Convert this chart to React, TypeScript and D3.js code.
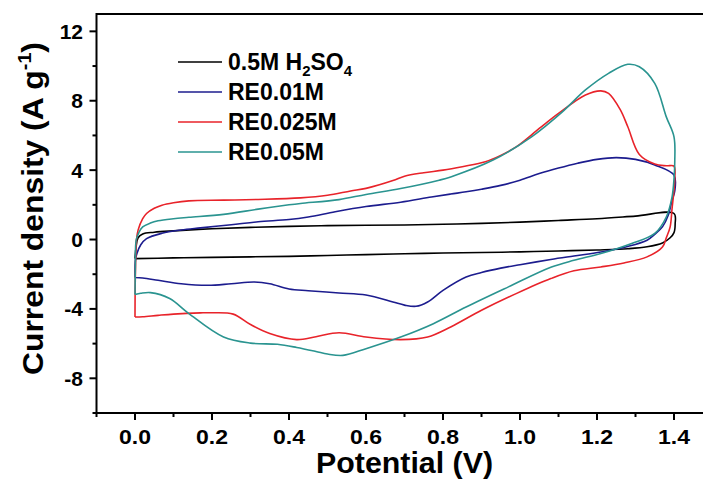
import React from "react";
import * as d3 from "d3";

const seriesNames = ["0.5M H2SO4", "RE0.01M", "RE0.025M", "RE0.05M"];
const seriesColors = ["#000000", "#1c1c8e", "#e8232a", "#2a9490"];

// [potential (V), current density (A/g)] – anodic sweep then cathodic sweep
const blackLoop: [number, number][] = [
  [0, -1.1], [0.003, -0.4], [0.008, 0.1], [0.02, 0.32], [0.05, 0.42], [0.1, 0.5], [0.2, 0.62],
  [0.3, 0.7], [0.4, 0.76], [0.5, 0.8], [0.6, 0.82], [0.7, 0.84], [0.8, 0.88], [0.9, 0.93],
  [1.0, 1.0], [1.1, 1.1], [1.2, 1.2], [1.3, 1.35], [1.4, 1.5],
  [1.403, 0.9], [1.4, 0.4], [1.39, 0.1], [1.37, -0.2], [1.33, -0.42], [1.28, -0.53], [1.2, -0.6],
  [1.1, -0.66], [1.0, -0.71], [0.9, -0.75], [0.8, -0.78], [0.7, -0.82], [0.6, -0.87], [0.5, -0.92],
  [0.4, -0.97], [0.3, -1.0], [0.2, -1.03], [0.1, -1.06], [0, -1.1],
];

const blueLoop: [number, number][] = [
  [0, -2.19], [0.001, -1.2], [0.005, -0.8], [0.015, -0.3], [0.03, 0.05], [0.07, 0.36], [0.12, 0.55],
  [0.17, 0.67], [0.25, 0.85], [0.32, 1.02], [0.4, 1.15], [0.45, 1.3], [0.52, 1.6], [0.6, 1.9],
  [0.69, 2.15], [0.77, 2.45], [0.82, 2.62], [0.86, 2.75], [0.9, 2.9], [0.95, 3.12], [1.0, 3.42],
  [1.05, 3.8], [1.1, 4.12], [1.15, 4.4], [1.2, 4.62], [1.25, 4.72], [1.3, 4.62], [1.35, 4.3], [1.4, 3.71],
  [1.402, 2.8], [1.395, 2.27], [1.385, 1.4], [1.37, 0.73], [1.35, 0.3], [1.33, -0.04], [1.28, -0.4],
  [1.21, -0.72], [1.14, -0.95], [1.08, -1.15], [1.0, -1.45], [0.95, -1.65], [0.9, -1.9],
  [0.86, -2.16], [0.8, -2.93], [0.76, -3.6], [0.73, -3.85], [0.7, -3.78], [0.67, -3.6],
  [0.6, -3.2], [0.53, -3.08], [0.45, -2.95], [0.4, -2.85], [0.35, -2.55], [0.31, -2.45],
  [0.25, -2.55], [0.19, -2.64], [0.12, -2.55], [0.06, -2.35], [0.02, -2.22], [0, -2.19],
];

const redLoop: [number, number][] = [
  [0, -4.47], [0.001, -2], [0.004, 0], [0.008, 0.54], [0.02, 1.2], [0.03, 1.5], [0.05, 1.8],
  [0.07, 1.98], [0.1, 2.12], [0.14, 2.23], [0.23, 2.27], [0.32, 2.31], [0.43, 2.4], [0.5, 2.55],
  [0.56, 2.8], [0.6, 2.95], [0.67, 3.4], [0.7, 3.65], [0.75, 3.85], [0.8, 4.0], [0.85, 4.2],
  [0.91, 4.48], [0.95, 4.85], [0.99, 5.34], [1.05, 6.4], [1.1, 7.27], [1.17, 8.33], [1.21, 8.57],
  [1.23, 8.42], [1.26, 7.5], [1.28, 6.5], [1.31, 4.9], [1.35, 4.35], [1.38, 4.25], [1.4, 4.23],
  [1.402, 3.5], [1.4, 2.84], [1.395, 1.8], [1.39, 0.73], [1.38, 0.1], [1.37, -0.43], [1.33, -1.0],
  [1.27, -1.35], [1.21, -1.58], [1.14, -1.8], [1.08, -2.25], [0.99, -3.12], [0.9, -4.08],
  [0.82, -5.04], [0.76, -5.62], [0.69, -5.77], [0.6, -5.62], [0.53, -5.37], [0.47, -5.6],
  [0.42, -5.77], [0.35, -5.42], [0.3, -4.9], [0.255, -4.3], [0.2, -4.22], [0.17, -4.23],
  [0.1, -4.3], [0.06, -4.37], [0.02, -4.45], [0, -4.47],
];

const tealLoop: [number, number][] = [
  [0, -3.17], [0.001, -1.5], [0.003, -0.04], [0.01, 0.4], [0.02, 0.73], [0.04, 0.95], [0.06, 1.08],
  [0.1, 1.2], [0.14, 1.28], [0.23, 1.45], [0.32, 1.75], [0.4, 2.0], [0.43, 2.08], [0.53, 2.3],
  [0.6, 2.6], [0.69, 2.94], [0.79, 3.42], [0.82, 3.61], [0.93, 4.58], [1.03, 5.92], [1.11, 7.36],
  [1.17, 8.62], [1.23, 9.58], [1.28, 10.1], [1.31, 9.96], [1.35, 9.0], [1.38, 7.07], [1.4, 5.92],
  [1.402, 4.5], [1.4, 3.5], [1.395, 2.46], [1.38, 1.3], [1.35, 0.35], [1.29, -0.23], [1.21, -0.81],
  [1.14, -1.2], [1.08, -1.6], [0.97, -2.73], [0.86, -3.89], [0.775, -4.85], [0.69, -5.62],
  [0.6, -6.29], [0.54, -6.68], [0.5, -6.6], [0.47, -6.45], [0.42, -6.22], [0.37, -6.04],
  [0.3, -5.97], [0.23, -5.62], [0.14, -4.27], [0.09, -3.4], [0.04, -3.06], [0.015, -3.1], [0, -3.17],
];

const loops = [blackLoop, blueLoop, redLoop, tealLoop];

const xMajorTicks = [0, 0.2, 0.4, 0.6, 0.8, 1.0, 1.2, 1.4];
const xMinorTicks = [-0.1, 0.1, 0.3, 0.5, 0.7, 0.9, 1.1, 1.3];
const yMajorTicks = [-8, -4, 0, 4, 8, 12];
const yMinorTicks = [-10, -6, -2, 2, 6, 10];

const W = 703;
const H = 482;
const FONT = "Arial, 'Liberation Sans', Helvetica, sans-serif";

export default function App() {
  const x = d3.scaleLinear().domain([-0.1, 1.5]).range([96.5, 712.5]);
  const y = d3.scaleLinear().domain([-10, 13]).range([413, 14]);
  const line = d3
    .line<[number, number]>()
    .x((d) => x(d[0]))
    .y((d) => y(d[1]))
    .curve(d3.curveCatmullRom.alpha(0.5));

  const left = x(-0.1);
  const bottom = y(-10);
  const top = y(13);

  return (
    <svg
      width={W}
      height={H}
      style={{ position: "absolute", left: 0, top: 0, background: "#fff" }}
      fontFamily={FONT}
    >
      <rect x={0} y={0} width={W} height={H} fill="#fff" />
      <defs>
        <clipPath id="plotclip">
          <rect x={left} y={top} width={x(1.5) - left} height={bottom - top} />
        </clipPath>
      </defs>

      <g clipPath="url(#plotclip)">
        {loops.map((d, i) => (
          <path key={i} d={line(d) || ""} fill="none" stroke={seriesColors[i]} strokeWidth={1.6} strokeLinejoin="round" />
        ))}
      </g>

      {/* frame */}
      <line x1={left} x2={W + 5} y1={top} y2={top} stroke="#000" strokeWidth={2} />
      <line x1={left} x2={W + 5} y1={bottom} y2={bottom} stroke="#000" strokeWidth={2} />
      <line x1={left} x2={left} y1={top - 1} y2={bottom + 1} stroke="#000" strokeWidth={2} />

      {/* x ticks */}
      {xMajorTicks.map((t) => (
        <g key={"xm" + t}>
          <line x1={x(t)} x2={x(t)} y1={bottom} y2={bottom + 7} stroke="#000" strokeWidth={2} />
          <text
            x={x(t) - 16}
            y={444}
            fontSize={21}
            fontWeight="bold"
            textLength={32}
            lengthAdjust="spacingAndGlyphs"
          >
            {t.toFixed(1)}
          </text>
        </g>
      ))}
      {xMinorTicks.map((t) => (
        <line key={"xn" + t} x1={x(t)} x2={x(t)} y1={bottom} y2={bottom + 4} stroke="#000" strokeWidth={2} />
      ))}

      {/* y ticks */}
      {yMajorTicks.map((t) => (
        <g key={"ym" + t}>
          <line x1={left - 7} x2={left} y1={y(t)} y2={y(t)} stroke="#000" strokeWidth={2} />
          <text x={83} y={y(t) + 7.5} textAnchor="end" fontSize={21} fontWeight="bold">
            {String(t)}
          </text>
        </g>
      ))}
      {yMinorTicks.map((t) => (
        <line key={"yn" + t} x1={left - 4} x2={left} y1={y(t)} y2={y(t)} stroke="#000" strokeWidth={2} />
      ))}

      {/* axis titles */}
      <text
        x={316}
        y={473}
        fontSize={29}
        fontWeight="bold"
        textLength={177}
        lengthAdjust="spacingAndGlyphs"
      >
        Potential (V)
      </text>
      <text
        transform="translate(43,375) rotate(-90)"
        fontSize={29}
        fontWeight="bold"
        textLength={333}
        lengthAdjust="spacingAndGlyphs"
      >
        Current density<tspan dx={8}>(A g</tspan>
        <tspan fontSize={18} dy={-12}>-1</tspan>
        <tspan dy={12}>)</tspan>
      </text>

      {/* legend */}
      {seriesNames.map((name, i) => {
        const ly = 62 + i * 30;
        return (
          <g key={name}>
            <line x1={178} x2={222} y1={ly} y2={ly} stroke={seriesColors[i]} strokeWidth={1.6} />
            {i === 0 ? (
              <text x={228} y={ly + 8} fontSize={23} fontWeight="bold">
                0.5M H<tspan fontSize={15} dy={6}>2</tspan>
                <tspan dy={-6}>SO</tspan>
                <tspan fontSize={15} dy={6}>4</tspan>
              </text>
            ) : (
              <text x={228} y={ly + 8} fontSize={23} fontWeight="bold">
                {name}
              </text>
            )}
          </g>
        );
      })}
    </svg>
  );
}
